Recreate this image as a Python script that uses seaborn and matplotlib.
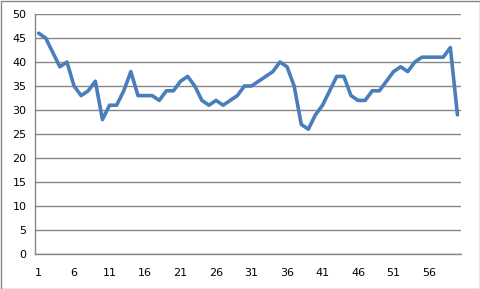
import matplotlib
matplotlib.use("Agg")
import matplotlib.pyplot as plt
import seaborn as sns
import pandas as pd
from matplotlib.patches import Rectangle

values = [46, 45, 42, 39, 40, 35, 33, 34, 36, 28,
          31, 31, 34, 38, 33, 33, 33, 32, 34, 34,
          36, 37, 35, 32, 31, 32, 31, 32, 33, 35,
          35, 36, 37, 38, 40, 39, 35, 27, 26, 29,
          31, 34, 37, 37, 33, 32, 32, 34, 34, 36,
          38, 39, 38, 40, 41, 41, 41, 41, 43, 29]
categories = list(range(1, len(values) + 1))
x_ticks = list(range(1, 60, 5))
y_ticks = list(range(0, 51, 5))

df = pd.DataFrame({"x": categories, "y": values})

sns.set_style("white")
plt.rcParams['font.family'] = ['DejaVu Sans']

fig = plt.figure(figsize=(4.81, 2.89), dpi=100)
ax = fig.add_axes([35/481, 35/289, (461-35)/481, (254-14)/289])

sns.lineplot(data=df, x="x", y="y", ax=ax, color="#4A7EBB", linewidth=2.6)

ax.set_xlim(0.5, 60.5)
ax.set_ylim(0, 50)
ax.set_xticks(x_ticks)
ax.set_yticks(y_ticks)
ax.set_xlabel("")
ax.set_ylabel("")
ax.grid(axis="y", color="#868686", linewidth=1)
ax.set_axisbelow(True)
for s in ["top", "right"]:
    ax.spines[s].set_visible(False)
for s in ["left", "bottom"]:
    ax.spines[s].set_color("#868686")
    ax.spines[s].set_linewidth(1)
ax.tick_params(axis="both", length=0, labelsize=8, colors="black")
ax.tick_params(axis="y", pad=6)
ax.tick_params(axis="x", pad=10)

fig.patches.append(Rectangle((0.5/481, 0.5/289), 1 - 1/481, 1 - 1/289,
                             transform=fig.transFigure, fill=False,
                             edgecolor="#868686", linewidth=1))

fig.savefig("out.png", dpi=100)
